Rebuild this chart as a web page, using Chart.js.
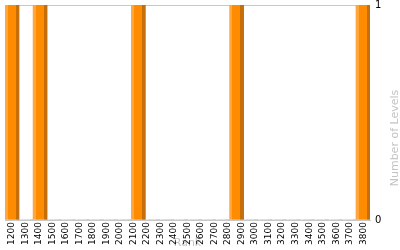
<!doctype html>
<html lang="en">
<head>
    <meta charset="utf-8" />
    <title>Levels by Rank</title>
    <script src="https://cdn.jsdelivr.net/npm/chart.js@4.4.1/dist/chart.umd.min.js"></script>
    <style>
        body { margin: 0; background: #fff; }
        #wrap { width: 400px; height: 250px; }
    </style>
</head>
<body>
    <div id="wrap"><canvas id="levelsChart"></canvas></div>
    <script>
        // rank bins (start of each 100-wide bin) and number of levels in each
        const binStarts = [1200, 1300, 1400, 1500, 1600, 1700, 1800, 1900, 2000, 2100, 2200, 2300, 2400,
            2500, 2600, 2700, 2800, 2900, 3000, 3100, 3200, 3300, 3400, 3500, 3600, 3700];
        const levels = [1, 0, 1, 0, 0, 0, 0, 0, 0, 1, 0, 0, 0,
            0, 0, 0, 1, 0, 0, 0, 0, 0, 0, 0, 0, 1];
        const rankMin = 1200;
        const rankMax = 3800;
        const rankStep = 100;
        const levelTicks = [0, 1];

        const titleGray = '#c4c4c4';
        const gridGray = '#c8c8c8';

        function barGradient(ctx) {
            const chart = ctx.chart;
            const area = chart.chartArea;
            if (!area) return '#FF8C00';
            const scale = chart.scales.bins;
            const cx = scale.getPixelForValue(ctx.dataIndex);
            const w = (area.right - area.left) / binStarts.length;
            const g = chart.ctx.createLinearGradient(cx - w / 2, 0, cx + w / 2, 0);
            g.addColorStop(0, '#FFA63F');
            g.addColorStop(0.2, '#FFA63F');
            g.addColorStop(0.2, '#FF8C00');
            g.addColorStop(0.76, '#FF8C00');
            g.addColorStop(0.76, '#C56E0C');
            g.addColorStop(1, '#C56E0C');
            return g;
        }

        function noPad(scale) {
            scale.paddingLeft = 0;
            scale.paddingRight = 0;
            scale.paddingTop = 0;
            scale.paddingBottom = 0;
        }

        // y title on the right, reading bottom to top
        const sideTitle = {
            id: 'sideTitle',
            afterDraw(chart) {
                const c = chart.ctx;
                c.save();
                c.translate(395, 138);
                c.rotate(-Math.PI / 2);
                c.font = '11px "DejaVu Sans"';
                c.fillStyle = titleGray;
                c.textAlign = 'center';
                c.textBaseline = 'middle';
                c.fillText('Number of Levels', 0, 0);
                c.restore();
            }
        };

        const ctx = document.getElementById('levelsChart').getContext('2d');
        const levelsChart = new Chart(ctx, {
            type: 'bar',
            data: {
                labels: binStarts.map(String),
                datasets: [{
                    label: 'Levels',
                    data: levels,
                    xAxisID: 'bins',
                    yAxisID: 'y',
                    backgroundColor: barGradient,
                    borderWidth: 0,
                    barPercentage: 1,
                    categoryPercentage: 1
                }]
            },
            options: {
                responsive: true,
                maintainAspectRatio: false,
                animation: false,
                layout: { padding: { left: 5, top: 5 } },
                plugins: {
                    legend: { display: false },
                    tooltip: { enabled: false }
                },
                scales: {
                    bins: {
                        type: 'category',
                        display: false
                    },
                    rank: {
                        type: 'linear',
                        position: 'bottom',
                        min: rankMin,
                        max: rankMax,
                        afterBuildTicks: scale => {
                            const t = [];
                            for (let v = rankMin; v <= rankMax; v += rankStep) t.push({ value: v });
                            scale.ticks = t;
                        },
                        ticks: {
                            autoSkip: false,
                            minRotation: 90,
                            maxRotation: 90,
                            padding: 2,
                            color: '#000',
                            font: { family: 'DejaVu Sans', size: 9 },
                            callback: v => String(v)
                        },
                        grid: {
                            drawTicks: false,
                            color: c => c.index === 0 ? '#dcdcdc' : 'rgba(0,0,0,0)'
                        },
                        border: { color: gridGray },
                        title: {
                            display: true,
                            text: 'Rank',
                            color: titleGray,
                            padding: 0,
                            font: { family: 'DejaVu Sans', size: 11 }
                        },
                        afterFit: scale => { scale.height = 30; noPad(scale); }
                    },
                    y: {
                        position: 'right',
                        min: 0,
                        max: 1,
                        afterBuildTicks: scale => { scale.ticks = levelTicks.map(v => ({ value: v })); },
                        ticks: {
                            padding: 5,
                            color: '#000',
                            font: { family: 'DejaVu Sans', size: 10 }
                        },
                        grid: { drawTicks: false, color: gridGray },
                        border: { display: false },
                        afterFit: scale => { scale.width = 30; noPad(scale); }
                    }
                }
            },
            plugins: [sideTitle]
        });
    </script>
</body>
</html>
